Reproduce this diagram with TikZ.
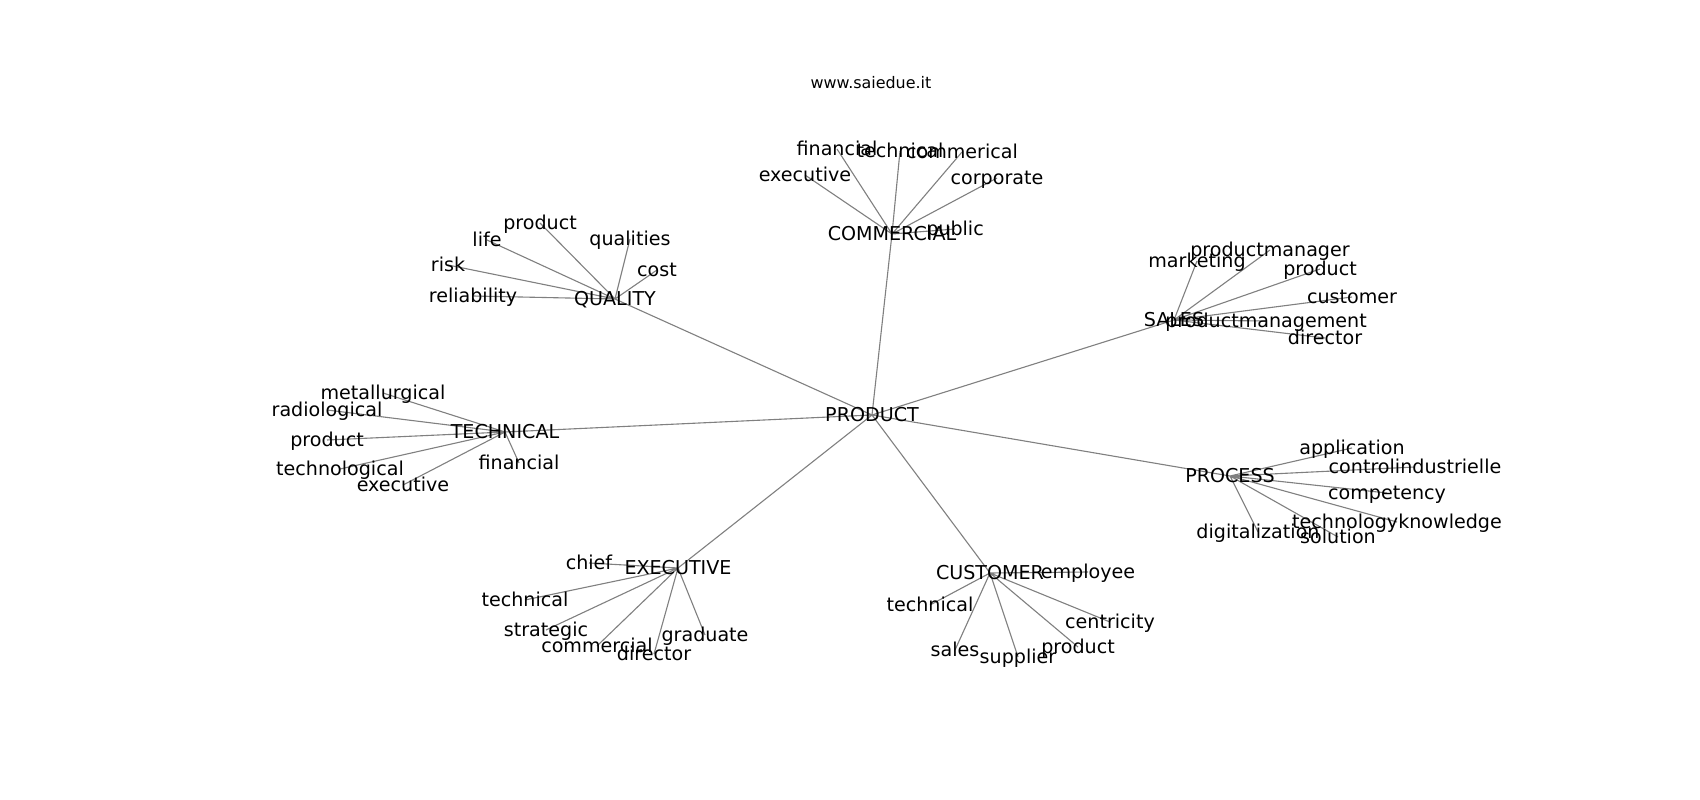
\documentclass[tikz,border=0pt]{standalone}
\usepackage{fontspec}
\setmainfont{DejaVu Sans}
\usepackage{tikz}
\usetikzlibrary{backgrounds}
\usepackage{xcolor}
\tikzset{
  lbl/.style={font=\fontsize{13.8}{16}\selectfont, inner sep=0pt, text height=0.95em, text depth=0.05em, anchor=center},
  edge/.style={draw=gray, line width=0.8pt}
}

\begin{document}
\begin{tikzpicture}[x=0.01in, y=-0.01in]
\useasboundingbox (0,0) rectangle (1700,800);
\node[font=\fontsize{11.5}{14}\selectfont, inner sep=0pt] (title) at (871,83) {www.saiedue.it};
% centre and hubs
\node[lbl] (prod) at (872,415) {PRODUCT};
\node[lbl] (comm) at (892,234) {COMMERCIAL};
\node[lbl] (qual) at (615,299) {QUALITY};
\node[lbl] (sales) at (1174,320) {SALES};
\node[lbl] (tech) at (505,432) {TECHNICAL};
\node[lbl] (proc) at (1230,476) {PROCESS};
\node[lbl] (exec) at (678,568) {EXECUTIVE};
\node[lbl] (cust) at (990,573) {CUSTOMER};
% commercial
\node[lbl] (comm-fin) at (837,149) {financial};
\node[lbl] (comm-tec) at (900,151) {technical};
\node[lbl] (comm-com) at (962,152) {commerical};
\node[lbl] (comm-exe) at (805,175) {executive};
\node[lbl] (comm-cor) at (997,178) {corporate};
\node[lbl] (comm-pub) at (955,229) {public};
% quality
\node[lbl] (qual-pro) at (540,223) {product};
\node[lbl] (qual-lif) at (487,240) {life};
\node[lbl] (qual-qua) at (630,239) {qualities};
\node[lbl] (qual-ris) at (448,265) {risk};
\node[lbl] (qual-cos) at (657,270) {cost};
\node[lbl] (qual-rel) at (473,296) {reliability};
% sales
\node[lbl] (sales-mar) at (1197,261) {marketing};
\node[lbl] (sales-pma) at (1270,250) {productmanager};
\node[lbl] (sales-pro) at (1320,269) {product};
\node[lbl] (sales-cus) at (1352,297) {customer};
\node[lbl] (sales-pmg) at (1266,321) {productmanagement};
\node[lbl] (sales-dir) at (1325,338) {director};
% technical
\node[lbl] (tech-met) at (383,393) {metallurgical};
\node[lbl] (tech-rad) at (327,410) {radiological};
\node[lbl] (tech-pro) at (327,440) {product};
\node[lbl] (tech-tec) at (340,469) {technological};
\node[lbl] (tech-exe) at (403,485) {executive};
\node[lbl] (tech-fin) at (519,463) {financial};
% process
\node[lbl] (proc-app) at (1352,448) {application};
\node[lbl] (proc-con) at (1415,467) {controlindustrielle};
\node[lbl] (proc-com) at (1387,493) {competency};
\node[lbl] (proc-tkn) at (1397,522) {technologyknowledge};
\node[lbl] (proc-dig) at (1258,532) {digitalization};
\node[lbl] (proc-sol) at (1338,537) {solution};
% executive
\node[lbl] (exec-chi) at (589,563) {chief};
\node[lbl] (exec-tec) at (525,600) {technical};
\node[lbl] (exec-str) at (546,630) {strategic};
\node[lbl] (exec-com) at (597,646) {commercial};
\node[lbl] (exec-dir) at (654,654) {director};
\node[lbl] (exec-gra) at (705,635) {graduate};
% customer
\node[lbl] (cust-emp) at (1088,572) {employee};
\node[lbl] (cust-tec) at (930,605) {technical};
\node[lbl] (cust-cen) at (1110,622) {centricity};
\node[lbl] (cust-sal) at (955,650) {sales};
\node[lbl] (cust-sup) at (1018,657) {supplier};
\node[lbl] (cust-pro) at (1078,647) {product};
\begin{scope}[on background layer]
\draw[edge] (prod.center) -- (comm.center) (prod.center) -- (qual.center) (prod.center) -- (sales.center) (prod.center) -- (tech.center)
  (prod.center) -- (proc.center) (prod.center) -- (exec.center) (prod.center) -- (cust.center);
\draw[edge] (comm.center) -- (comm-fin.center) (comm.center) -- (comm-tec.center) (comm.center) -- (comm-com.center)
  (comm.center) -- (comm-exe.center) (comm.center) -- (comm-cor.center) (comm.center) -- (comm-pub.center);
\draw[edge] (qual.center) -- (qual-pro.center) (qual.center) -- (qual-lif.center) (qual.center) -- (qual-qua.center)
  (qual.center) -- (qual-ris.center) (qual.center) -- (qual-cos.center) (qual.center) -- (qual-rel.center);
\draw[edge] (sales.center) -- (sales-mar.center) (sales.center) -- (sales-pma.center) (sales.center) -- (sales-pro.center)
  (sales.center) -- (sales-cus.center) (sales.center) -- (sales-pmg.center) (sales.center) -- (sales-dir.center);
\draw[edge] (tech.center) -- (tech-met.center) (tech.center) -- (tech-rad.center) (tech.center) -- (tech-pro.center)
  (tech.center) -- (tech-tec.center) (tech.center) -- (tech-exe.center) (tech.center) -- (tech-fin.center);
\draw[edge] (proc.center) -- (proc-app.center) (proc.center) -- (proc-con.center) (proc.center) -- (proc-com.center)
  (proc.center) -- (proc-tkn.center) (proc.center) -- (proc-dig.center) (proc.center) -- (proc-sol.center);
\draw[edge] (exec.center) -- (exec-chi.center) (exec.center) -- (exec-tec.center) (exec.center) -- (exec-str.center)
  (exec.center) -- (exec-com.center) (exec.center) -- (exec-dir.center) (exec.center) -- (exec-gra.center);
\draw[edge] (cust.center) -- (cust-emp.center) (cust.center) -- (cust-tec.center) (cust.center) -- (cust-cen.center)
  (cust.center) -- (cust-sal.center) (cust.center) -- (cust-sup.center) (cust.center) -- (cust-pro.center);
\end{scope}
\end{tikzpicture}
\end{document}
